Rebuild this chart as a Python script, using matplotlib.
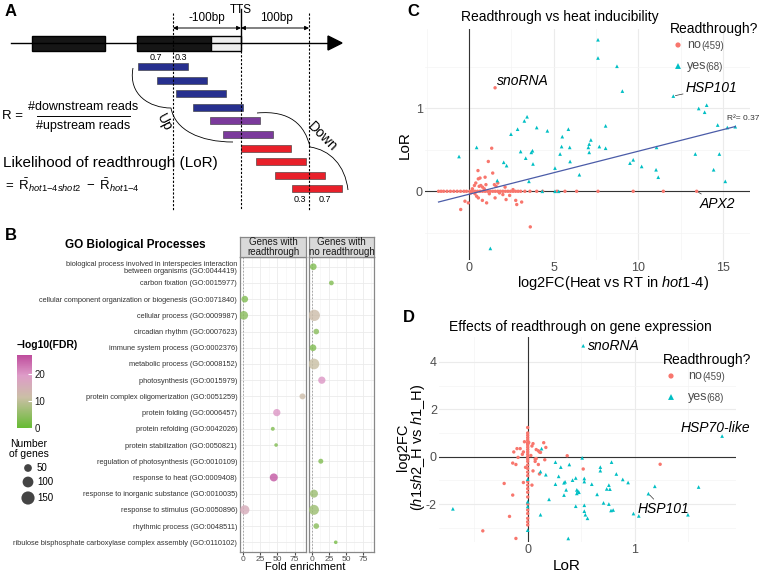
import numpy as np
import matplotlib
matplotlib.use('Agg')
import matplotlib.pyplot as plt
from matplotlib.patches import Rectangle, Polygon, PathPatch
from matplotlib.path import Path
from matplotlib.colors import LinearSegmentedColormap, Normalize
from matplotlib.cm import ScalarMappable

plt.rcParams['font.family'] = ['Liberation Sans', 'DejaVu Sans']
plt.rcParams['mathtext.fontset'] = 'custom'
plt.rcParams['mathtext.rm'] = 'Liberation Sans'
plt.rcParams['mathtext.it'] = 'Liberation Sans:italic'
plt.rcParams['mathtext.bf'] = 'Liberation Sans:bold'
plt.rcParams['axes.unicode_minus'] = False

# ---------------- data ----------------
# Panel B: GO terms (top to bottom)
go_terms = [
    'biological process involved in interspecies interaction\nbetween organisms (GO:0044419)',
    'carbon fixation (GO:0015977)',
    'cellular component organization or biogenesis (GO:0071840)',
    'cellular process (GO:0009987)',
    'circadian rhythm (GO:0007623)',
    'immune system process (GO:0002376)',
    'metabolic process (GO:0008152)',
    'photosynthesis (GO:0015979)',
    'protein complex oligomerization (GO:0051259)',
    'protein folding (GO:0006457)',
    'protein refolding (GO:0042026)',
    'protein stabilization (GO:0050821)',
    'regulation of photosynthesis (GO:0010109)',
    'response to heat (GO:0009408)',
    'response to inorganic substance (GO:0010035)',
    'response to stimulus (GO:0050896)',
    'rhythmic process (GO:0048511)',
    'ribulose bisphosphate carboxylase complex assembly (GO:0110102)',
]
facet_titles = ['Genes with\nreadthrough', 'Genes with\nno readthrough']

# genes with readthrough
rt_idx = [2, 3, 8, 9, 10, 11, 13, 15]
rt_fold = [2.5, 1.0, 86.3, 49.0, 43.2, 48.0, 44.6, 2.5]
rt_fdr = [3, 4, 12, 20, 3, 3, 26, 16]
rt_genes = [37, 64, 29, 44, 12, 10, 54, 73]

# genes with no readthrough
nort_idx = [0, 1, 3, 4, 5, 6, 7, 12, 14, 15, 16, 17]
nort_fold = [1.9, 28.6, 3.4, 6.3, 1.5, 2.9, 14.5, 13.0, 2.9, 2.9, 6.3, 35.0]
nort_fdr = [3, 3, 12, 4, 3, 11, 20, 3, 6, 6, 4, 2]
nort_genes = [37, 18, 110, 26, 37, 98, 44, 20, 54, 85, 26, 10]

size_legend = [50, 100, 150]

# Panel C: log2FC(heat vs RT) vs LoR
c_yes_x = [-0.59, 0.45, 1.26, 1.67, 2.05, 2.22, 2.48, 2.87, 3.05, 3.27, 3.43, 3.35, 3.54, 3.68,
           3.75, 3.78, 4.0, 4.33, 4.63, 5.08, 5.38, 5.47, 5.51, 5.87, 5.95, 5.97, 5.08, 5.3,
           6.52, 7.05, 7.1, 7.2, 7.1, 7.62, 7.62, 7.7, 8.07, 8.07, 8.74, 9.06, 9.51, 9.7,
           10.2, 11.08, 11.05, 11.18, 12.07, 13.37, 13.57, 13.92, 14.04, 14.45, 14.69,
           14.79, 15.14, 15.26, 15.73]
c_yes_y = [0.42, 0.53, -0.69, 0.13, 0.35, 0.31, 0.69, 0.75, 0.48, 0.85, 0.90, 0.40, 0.12, 0.47,
           0.49, 0.33, 0.77, 0.0, 0.73, 0.28, 0.45, 0.54, 0.66, 0.75, 0.53, 0.36, 0.0, 0.0,
           0.20, 0.53, 0.57, 0.62, 0.47, 1.83, 1.61, 0.54, 0.79, 0.52, 1.51, 1.21, 0.34, 0.38,
           0.30, 0.53, 0.26, 0.17, 1.15, 0.45, 1.0, 0.955, 1.04, 0.26, 0.80,
           0.45, 0.12, 0.77, 0.78]
c_no_x = [1.54, 1.34, 1.14, 0.53, 0.95, 1.4, 0.65, 0.55, 0.32, 0.6, 0.7, 0.8, 1.0, 1.5, 1.6,
          1.7, 2.13, 0.35, 0.45, 0.55, -0.24, -0.04, -0.49, 0.79, 1.04, 1.54, 2.19, 2.76,
          2.82, 3.11, 3.62, 2.0, 2.4, 0.2, 0.1, 0.9, 1.2, 0.4, 2.6, 1.8,
          -1.8, -1.65, -1.5, -1.3, -1.1, -0.9, -0.7, -0.5, -0.3, -0.15, 0.05, 0.2, 0.35, 0.5,
          0.65, 0.8, 0.95, 1.1, 1.25, 1.4, 1.55, 1.7, 1.85, 2.0, 2.15, 2.3, 2.45, 2.6, 2.75,
          2.9, 3.05, 3.3, 3.6, 4.0, 4.35, 5.2, 5.67, 6.36, 7.62, 9.7, 11.48, 13.45]
c_no_y = [1.25, 0.52, 0.36, 0.25, 0.17, 0.22, 0.16, 0.15, 0.07, 0.06, 0.07, 0.05, 0.08, 0.08,
          0.06, 0.1, 0.05, -0.03, -0.06, -0.08, -0.12, -0.14, -0.22, -0.11, -0.14, -0.08,
          -0.10, -0.11, -0.16, -0.13, -0.43, -0.04, -0.05, 0.03, -0.02, 0.03, -0.03, 0.1,
          0.02, -0.02,
          0, 0, 0, 0, 0, 0, 0, 0, 0, 0, 0, 0, 0, 0, 0, 0, 0, 0, 0, 0, 0, 0, 0, 0, 0, 0,
          0, 0, 0, 0, 0, 0, 0, 0, 0, 0, 0, 0, 0, 0, 0, 0]
c_fit_intercept = -0.036
c_fit_slope = 0.052
c_r2 = 0.37

# Panel D: LoR vs log2FC(h1sh2_H vs h1_H)
d_yes_x = [0.52, -0.70, 0.13, 0.26, 0.31, 0.39, 0.12, 0.17, 0.29, 0.26, 0.34, 0.35, 0.36, 0.34,
           0.20, 0.45, 0.42, 0.53, 0.53, 0.46, 0.47, 0.48, 0.46, 0.45, 0.53, 0.53, 0.54, 0.56,
           0.12, 0.38, 0.51, 0.0, 0.0, 0.0, 0.0, 1.82, 0.785, 0.68, 0.83, 0.89, 0.94, 0.60,
           0.76, 0.74, 0.65, 1.19, 1.60, 1.13, 0.71, 0.76, 0.78, 0.80, 0.99, 1.04, 1.50,
           0.77, 0.68]
d_yes_y = [4.68, -2.2, 0.34, -0.23, -0.44, -0.33, -0.63, -0.76, -0.83, -1.16, -1.1, -1.06, -1.4,
           -1.62, -1.8, -0.9, -0.99, -0.92, -1.05, -1.4, -1.45, -1.5, -1.55, -2.09, -2.05,
           -2.3, -2.45, -2.6, -2.45, -3.45, -0.05, -0.95, -1.9, -2.1, -3.1, 0.87, -0.23,
           -0.44, -0.73, -0.96, -1.09, -1.16, -1.2, -1.36, -1.59, -1.25, -1.28, -1.56,
           -1.95, -2.0, -2.27, -2.25, -2.4, -2.5, -2.45, -1.37, -0.59]
d_no_x = [0, 0, 0, 0, 0, 0, 0, 0, 0, 0, 0, 0, 0, 0, 0, 0, 0, 0, 0, 0, 0, 0, 0, 0, 0, 0, 0,
          0, 0,
          -0.42, -0.11, -0.17, -0.14, -0.22, -0.04, 0.04, -0.14, -0.11, -0.09, -0.13, -0.1,
          -0.07, -0.04, -0.03, 0.0, 0.01, 0.04, 0.05, 0.08, 0.1, 0.15, 0.17, 0.11, 0.12,
          0.07, 0.08, 0.16, 0.07, 0.1, 0.11, 0.05, 0.37, 0.52, 1.24, -0.02, 0.03, -0.05]
d_no_y = [1.23, 1.0, 0.9, 0.8, 0.7, 0.6, 0.5, 0.4, 0.3, 0.2, 0.1, 0.0, -0.1, -0.2, -0.35,
          -0.5, -0.65, -0.8, -1.05, -1.2, -1.35, -1.5, -1.7, -2.0, -2.25, -2.4, -2.6, -2.75,
          -2.88,
          -3.13, -3.45, -2.52, -1.62, -1.13, -1.09, -1.2, -0.27, -0.33, -0.03, 0.2, 0.34,
          0.34, 0.2, 0.63, 0.55, 0.6, 0.45, 0.55, 0.3, 0.25, 0.59, 0.39, 0.2, 0.18,
          -0.1, -0.08, -0.13, -0.2, -0.33, -0.73, -0.6, 0.04, -0.52, -0.32, -0.45, 0.05, 0.1]

n_no, n_yes = 459, 68

RED = '#F8766D'
TEAL = '#00BFC4'
W, H = 760, 575


def fig_rect(x0, y0, x1, y1):
    # pixel box (top-left origin) -> figure fraction
    return [x0 / W, 1 - y1 / H, (x1 - x0) / W, (y1 - y0) / H]


def gene_size(n):
    d_px = 0.3 + 1.05 * np.sqrt(np.asarray(n, dtype=float))
    return (d_px * 0.72) ** 2


fig = plt.figure(figsize=(7.6, 5.75), dpi=100)

# overlay axes in pixel coords for diagram / free text, drawn on top
ov = fig.add_axes([0, 0, 1, 1])
ov.set_xlim(0, W)
ov.set_ylim(H, 0)
ov.axis('off')
ov.set_zorder(10)

# ---------------- Panel A: schematic ----------------
ov.text(5, 11, 'A', fontsize=12, fontweight='bold', va='center')
ov.plot([11, 330], [43, 43], color='black', lw=1)
ov.add_patch(Polygon([(328, 36), (342, 43), (328, 50)], closed=True, fc='black', ec='black'))
ov.add_patch(Rectangle((32, 36), 73, 15, fc='#161616', ec='black'))
ov.add_patch(Rectangle((137, 36), 74, 15, fc='#161616', ec='black'))
ov.add_patch(Rectangle((211, 36), 30, 15, fc='#EEEEEE', ec='black', lw=1))

ov.plot([173, 173], [13, 210], color='black', lw=0.8, ls=(0, (2, 1.5)))
ov.plot([309, 309], [13, 210], color='black', lw=0.8, ls=(0, (2, 1.5)))
ov.plot([241, 241], [9, 43], color='black', lw=1)
ov.plot([241, 241], [43, 210], color='black', lw=0.8, ls=(0, (2, 1.5)))
ov.annotate('', xy=(173, 28), xytext=(241, 28),
            arrowprops=dict(arrowstyle='<|-|>', lw=0.7, color='black', mutation_scale=6,
                            shrinkA=0, shrinkB=0))
ov.annotate('', xy=(241, 28), xytext=(309, 28),
            arrowprops=dict(arrowstyle='<|-|>', lw=0.7, color='black', mutation_scale=6,
                            shrinkA=0, shrinkB=0))
ov.text(207, 18, '-100bp', fontsize=8.5, ha='center', va='center')
ov.text(276, 18, '100bp', fontsize=8.5, ha='center', va='center')
ov.text(241, 10, 'TTS', fontsize=8.5, ha='center', va='center')
ov.text(156, 58, '0.7', fontsize=6.5, ha='center', va='center')
ov.text(181, 58, '0.3', fontsize=6.5, ha='center', va='center')
ov.text(300, 200, '0.3', fontsize=6.5, ha='center', va='center')
ov.text(325, 200, '0.7', fontsize=6.5, ha='center', va='center')

read_starts = [138, 157, 176, 193, 210, 223, 241, 256, 275, 292]
read_colors = ['#27308F'] * 4 + ['#7B3A9C'] * 2 + ['#E8202A'] * 4
for i, (x0, col) in enumerate(zip(read_starts, read_colors)):
    ov.add_patch(Rectangle((x0, 63 + i * 13.6), 50, 7, fc=col, ec='#333333', lw=0.4))

up_brace = Path([(133, 68), (128, 95), (150, 108), (171, 108),
                 (175, 130), (200, 142), (233, 142)],
                [Path.MOVETO, Path.CURVE4, Path.CURVE4, Path.CURVE4,
                 Path.CURVE4, Path.CURVE4, Path.CURVE4])
down_brace = Path([(257, 113), (290, 110), (305, 125), (310, 147),
                   (330, 150), (345, 165), (348, 190)],
                  [Path.MOVETO, Path.CURVE4, Path.CURVE4, Path.CURVE4,
                   Path.CURVE4, Path.CURVE4, Path.CURVE4])
ov.add_patch(PathPatch(up_brace, fc='none', ec='black', lw=0.6))
ov.add_patch(PathPatch(down_brace, fc='none', ec='black', lw=0.6))
ov.text(164, 123, 'Up', fontsize=10, rotation=-62, ha='center', va='center')
ov.text(322, 137, 'Down', fontsize=10, rotation=-45, ha='center', va='center')

ov.text(2, 116, 'R =', fontsize=9.5, va='center')
ov.text(83, 107, '#downstream reads', fontsize=9, ha='center', va='center')
ov.plot([37, 130], [116, 116], color='black', lw=0.7)
ov.text(83, 126, '#upstream reads', fontsize=9, ha='center', va='center')
ov.text(3, 163, 'Likelihood of readthrough (LoR)', fontsize=11, va='center')
ov.text(3, 185, r'$=\ \bar{\mathrm{R}}_{\mathit{hot1{-}4shot2}}\ -\ \bar{\mathrm{R}}_{\mathit{hot1{-}4}}$',
        fontsize=9.5, va='center')

# ---------------- Panel B: GO dot plot ----------------
ov.text(5, 235, 'B', fontsize=12, fontweight='bold', va='center')
ov.text(135, 245, 'GO Biological Processes', fontsize=8.5, fontweight='bold',
        ha='center', va='center')

cmap = LinearSegmentedColormap.from_list(
    'fdr', [(0.0, '#66BB33'), (0.42, '#CBBFA6'), (0.72, '#DE9CC8'), (1.0, '#BE4C9C')])
norm = Normalize(vmin=0, vmax=27)

facets = [(240, 306, rt_idx, rt_fold, rt_fdr, rt_genes),
          (309, 374, nort_idx, nort_fold, nort_fdr, nort_genes)]
for k, (x0, x1, idx, fold, fdr, genes) in enumerate(facets):
    ax = fig.add_axes(fig_rect(x0, 257, x1, 552))
    ax.set_xlim(-4.4, 91.4)
    ax.set_ylim(len(go_terms) - 0.4, -0.6)
    ax.set_xticks([0, 25, 50, 75])
    ax.set_xticks([12.5, 37.5, 62.5, 87.5], minor=True)
    ax.set_yticks(range(len(go_terms)))
    ax.grid(which='major', color='#EBEBEB', lw=0.6)
    ax.grid(which='minor', axis='x', color='#F3F3F3', lw=0.4)
    ax.set_axisbelow(True)
    ax.axvline(0, color='#9A9A9A', lw=0.6, ls=(0, (2, 2)))
    ax.scatter(fold, idx, s=gene_size(genes), c=fdr, cmap=cmap, norm=norm,
               alpha=0.8, edgecolors='none', zorder=3)
    ax.tick_params(axis='x', labelsize=6, colors='#4D4D4D', length=2, pad=1)
    ax.tick_params(axis='x', which='minor', length=0)
    if k == 0:
        ax.set_yticklabels(go_terms, fontsize=5.3, color='#333333', linespacing=1.0)
        ax.tick_params(axis='y', length=0, pad=2)
    else:
        ax.tick_params(axis='y', length=0, labelleft=False)
    for sp in ax.spines.values():
        sp.set_color('#888888')
        sp.set_linewidth(0.9)

    strip = fig.add_axes(fig_rect(x0, 237, x1, 257))
    strip.set_facecolor('#D9D9D9')
    strip.set_xticks([])
    strip.set_yticks([])
    for sp in strip.spines.values():
        sp.set_color('#888888')
        sp.set_linewidth(0.9)
    strip.text(0.5, 0.5, facet_titles[k], fontsize=7, ha='center', va='center',
               linespacing=0.95, color='#1A1A1A', transform=strip.transAxes)

ov.text(305, 567, 'Fold enrichment', fontsize=8, ha='center', va='center')

# colour legend
ov.text(17, 345, '\u2212log10(FDR)', fontsize=7.5, fontweight='bold', va='center')
cax = fig.add_axes(fig_rect(17, 355, 32, 428))
cb = fig.colorbar(ScalarMappable(norm=norm, cmap=cmap), cax=cax, ticks=[0, 10, 20])
cb.outline.set_visible(False)
cax.tick_params(length=3, color='white', direction='in', labelsize=7, pad=2,
                labelcolor='#1A1A1A')

# size legend
ov.text(29, 449, 'Number\nof genes', fontsize=7.5, ha='center', va='center', linespacing=0.9)
size_y = [468, 482, 498]
ov.scatter([28] * 3, size_y, s=gene_size(size_legend), c='#444444', edgecolors='none')
for yy, n in zip(size_y, size_legend):
    ov.text(37, yy, str(n), fontsize=7, va='center')


def style_scatter_axes(ax, xmaj, xmin, ymaj, ymin):
    ax.set_xticks(xmaj)
    ax.set_xticks(xmin, minor=True)
    ax.set_yticks(ymaj)
    ax.set_yticks(ymin, minor=True)
    ax.grid(which='major', color='#EBEBEB', lw=0.8)
    ax.grid(which='minor', color='#F4F4F4', lw=0.5)
    ax.set_axisbelow(True)
    ax.set_facecolor('none')
    for sp in ax.spines.values():
        sp.set_visible(False)
    ax.tick_params(which='both', length=0, labelsize=9, labelcolor='#4D4D4D', pad=1.5)
    ax.axhline(0, color='#333333', lw=0.8, zorder=1)
    ax.axvline(0, color='#333333', lw=0.8, zorder=1)


def draw_legend(x, y_title, y_no, y_yes, x_txt):
    ov.text(x, y_title, 'Readthrough?', fontsize=10, va='center')
    ov.scatter([x + 8], [y_no], s=14, c=RED, marker='o', edgecolors='none')
    ov.scatter([x + 8], [y_yes], s=18, c=TEAL, marker='^', edgecolors='none')
    ov.text(x_txt, y_no, 'no', fontsize=9, va='center', color='#4D4D4D')
    ov.text(x_txt + 14, y_no + 1, '(%d)' % n_no, fontsize=7, va='center', color='#4D4D4D')
    ov.text(x_txt, y_yes, 'yes', fontsize=9, va='center', color='#4D4D4D')
    ov.text(x_txt + 18, y_yes + 1, '(%d)' % n_yes, fontsize=7, va='center', color='#4D4D4D')


seg = dict(arrowstyle='-', color='#333333', lw=0.5, shrinkA=0, shrinkB=1.5)

# ---------------- Panel C ----------------
ov.text(407, 11, 'C', fontsize=12, fontweight='bold', va='center')
ax_c = fig.add_axes(fig_rect(425, 29, 750, 260))
ax_c.set_xlim(-2.6, 16.6)
ax_c.set_ylim(-0.83, 1.96)
style_scatter_axes(ax_c, [0, 5, 10, 15], [-2.5, 2.5, 7.5, 12.5], [0, 1], [-0.5, 0.5, 1.5])
ax_c.scatter(c_no_x, c_no_y, s=6, c=RED, marker='o', edgecolors='none', zorder=3)
ax_c.scatter(c_yes_x, c_yes_y, s=7, c=TEAL, marker='^', edgecolors='none', zorder=3)
all_cx = np.array(c_no_x + c_yes_x)
fit_x = np.array([all_cx.min(), all_cx.max()])
ax_c.plot(fit_x, c_fit_intercept + c_fit_slope * fit_x, color='#4B5CA8', lw=0.9, zorder=4)
ax_c.annotate('snoRNA', xy=(1.54, 1.25), xytext=(1.5, 5), textcoords='offset points',
              fontsize=10, style='italic', ha='left', va='center')
ax_c.annotate('HSP101', xy=(12.07, 1.15), xytext=(9, 6), textcoords='offset points',
              fontsize=10, style='italic', ha='left', va='center', arrowprops=seg)
ax_c.annotate('APX2', xy=(13.45, 0), xytext=(2.5, -9), textcoords='offset points',
              fontsize=10, style='italic', ha='left', va='center', arrowprops=seg)
ov.text(743, 118, 'R\u00b2= %.2f' % c_r2, fontsize=6, ha='center', va='center',
        color='#333333')
ov.text(560, 17, 'Readthrough vs heat inducibility', fontsize=10, ha='center', va='center')
ov.text(613, 283, r'log2FC(Heat vs RT in $\mathit{hot1}$-$\mathit{4}$)', fontsize=10.5,
        ha='center', va='center')
ov.text(405, 145, 'LoR', fontsize=11, rotation=90, ha='center', va='center')
draw_legend(670, 29, 45, 66, 687)

# ---------------- Panel D ----------------
ov.text(403, 317, 'D', fontsize=12, fontweight='bold', va='center')
ax_d = fig.add_axes(fig_rect(439, 337, 736, 542))
ax_d.set_xlim(-0.83, 1.95)
ax_d.set_ylim(-3.6, 5.05)
style_scatter_axes(ax_d, [0, 1], [-0.5, 0.5, 1.5], [-2, 0, 2, 4], [-3, -1, 1, 3])
ax_d.scatter(d_no_x, d_no_y, s=6, c=RED, marker='o', edgecolors='none', zorder=3)
ax_d.scatter(d_yes_x, d_yes_y, s=7, c=TEAL, marker='^', edgecolors='none', zorder=3)
ax_d.annotate('snoRNA', xy=(0.52, 4.68), xytext=(3.5, 0), textcoords='offset points',
              fontsize=10, style='italic', ha='left', va='center')
ax_d.annotate('HSP70-like', xy=(1.82, 0.87), xytext=(-5, 6), textcoords='offset points',
              fontsize=10, style='italic', ha='center', va='center')
ax_d.annotate('HSP101', xy=(1.13, -1.56), xytext=(-8, -11), textcoords='offset points',
              fontsize=10, style='italic', ha='left', va='center', arrowprops=seg)
ov.text(580, 327, 'Effects of readthrough on gene expression', fontsize=10,
        ha='center', va='center')
ov.text(567, 566, 'LoR', fontsize=11, ha='center', va='center')
ov.text(403, 447, 'log2FC', fontsize=10.5, rotation=90, ha='center', va='center')
ov.text(418, 447, r'($\mathit{h1sh2}$_H vs $\mathit{h1}$_H)', fontsize=10.5, rotation=90,
        ha='center', va='center')
draw_legend(663, 360, 376, 397, 688)

fig.savefig('out.png', dpi=100)
